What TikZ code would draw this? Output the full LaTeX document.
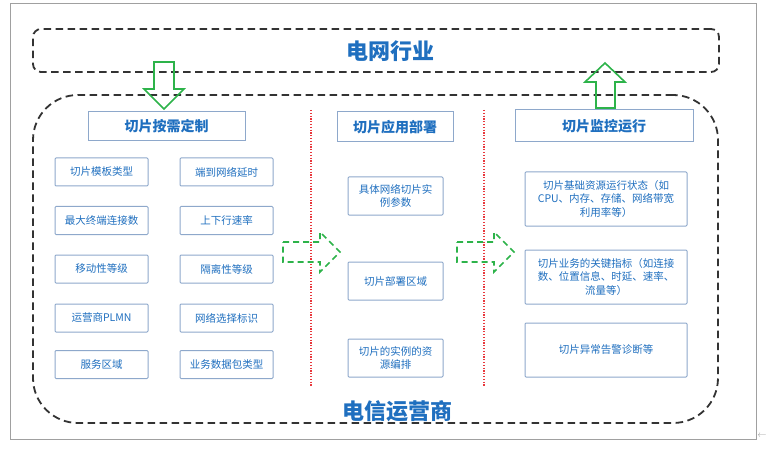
\documentclass[tikz,border=0pt]{standalone}
\usepackage{fontspec}
\usepackage{tikz}
\usetikzlibrary{positioning}
\newfontfamily\cjk{Noto Sans CJK SC}
\definecolor{gridblue}{HTML}{1F6FBF}
\definecolor{boxline}{HTML}{8EA8CB}
\definecolor{arrowgreen}{HTML}{2DB34A}
\definecolor{splitred}{HTML}{E8383D}
\definecolor{zonegray}{HTML}{333333}
\definecolor{framegray}{HTML}{A0A0A0}

\begin{document}
\begin{tikzpicture}[
    x=1pt, y=-1pt,
    zone/.style={rectangle, draw=zonegray, line width=1.8pt, dash pattern=on 7.5pt off 4.5pt, inner sep=0pt},
    title/.style={text=gridblue, font=\cjk\bfseries\fontsize{22}{24}\selectfont, inner sep=0pt},
    hdr/.style={rectangle, draw=boxline, line width=1pt, fill=white, text=gridblue, font=\cjk\bfseries\fontsize{14}{16}\selectfont, inner sep=0pt},
    item/.style={rectangle, draw=boxline, line width=1pt, rounded corners=1pt, fill=white, text=gridblue, font=\cjk\fontsize{10.5}{13.5}\selectfont, align=center, inner sep=0pt},
    leftitem/.style={item, minimum width=93pt, minimum height=28pt},
    miditem/.style={item, minimum width=95pt, minimum height=38pt},
    rightitem/.style={item, minimum width=162pt, minimum height=54pt},
    bigarrow/.style={draw=arrowgreen, line width=1.6pt, line join=miter},
    flowarrow/.style={draw=arrowgreen, line width=1.6pt, dash pattern=on 6pt off 4pt},
    divider/.style={draw=splitred, line width=1.3pt, dash pattern=on 1.2pt off 1.6pt}
]
\useasboundingbox (0,0) rectangle (767,454);
\draw[framegray, line width=0.8pt] (10,3) rectangle (756,439);
\node[text=framegray, font=\small, inner sep=0pt] (mark) at (762,436) {$\leftarrow$};

% industry and operator zones
\node[zone, rounded corners=8pt, minimum width=686pt, minimum height=43pt] (grid) at (376,50.5) {};
\node[title] (gridlabel) at (390,51) {电网行业};
\node[zone, rounded corners=45pt, minimum width=685pt, minimum height=328pt] (operator) at (375.5,259) {};
\node[title] (oplabel) at (397,411) {电信运营商};

% block arrows between the zones
\draw[bigarrow] (154,62) -- (174,62) -- (174,89) -- (184,89) -- (164,109) -- (144,89) -- (154,89) -- cycle;
\draw[bigarrow] (596,108) -- (615,108) -- (615,82) -- (625,82) -- (605,63) -- (585,82) -- (596,82) -- cycle;

% column dividers
\coordinate (d1top) at (311,110);
\coordinate (d1bot) at (311,387);
\coordinate (d2top) at (484,110);
\coordinate (d2bot) at (484,387);
\draw[divider] (d1top) -- (d1bot);
\draw[divider] (d2top) -- (d2bot);

% customisation column
\node[hdr, minimum width=157pt, minimum height=29pt] (custom) at (166.5,126.5) {切片按需定制};
\node[leftitem] (tpl) at (101.5,172) {切片模板类型};
\node[leftitem] (delay) at (226.5,172) {端到网络延时};
\node[leftitem] (conn) at (101.5,220.5) {最大终端连接数};
\node[leftitem] (rate) at (226.5,220.5) {上下行速率};
\node[leftitem] (mobility) at (101.5,269) {移动性等级};
\node[leftitem] (isolation) at (226.5,269) {隔离性等级};
\node[leftitem] (plmn) at (101.5,318) {运营商PLMN};
\node[leftitem] (nssai) at (226.5,318) {网络选择标识};
\node[leftitem] (area) at (101.5,364.5) {服务区域};
\node[leftitem] (pkt) at (226.5,364.5) {业务数据包类型};

% deployment column
\node[hdr, minimum width=116pt, minimum height=30pt] (deploy) at (395,127) {切片应用部署};
\node[miditem] (param) at (395.5,196) {具体网络切片实\\例参数};
\node[miditem] (zonearea) at (395.5,281) {切片部署区域};
\node[miditem] (orch) at (395.5,358) {切片的实例的资\\源编排};

% monitoring column
\node[hdr, minimum width=178pt, minimum height=32pt] (monitor) at (604,126) {切片监控运行};
\node[rightitem] (res) at (606,199) {切片基础资源运行状态（如\\CPU、内存、存储、网络带宽\\利用率等）};
\node[rightitem] (kpi) at (606,277) {切片业务的关键指标（如连接\\数、位置信息、时延、速率、\\流量等）};
\node[rightitem] (alarm) at (606,350) {切片异常告警诊断等};

% dashed flow arrows
\draw[flowarrow] (283,242) -- (320,242) -- (320,232) -- (340,252) -- (320,272) -- (320,262) -- (283,262) -- cycle;
\draw[flowarrow] (457,242) -- (494,242) -- (494,232) -- (514,252) -- (494,272) -- (494,262) -- (457,262) -- cycle;
\end{tikzpicture}
\end{document}
